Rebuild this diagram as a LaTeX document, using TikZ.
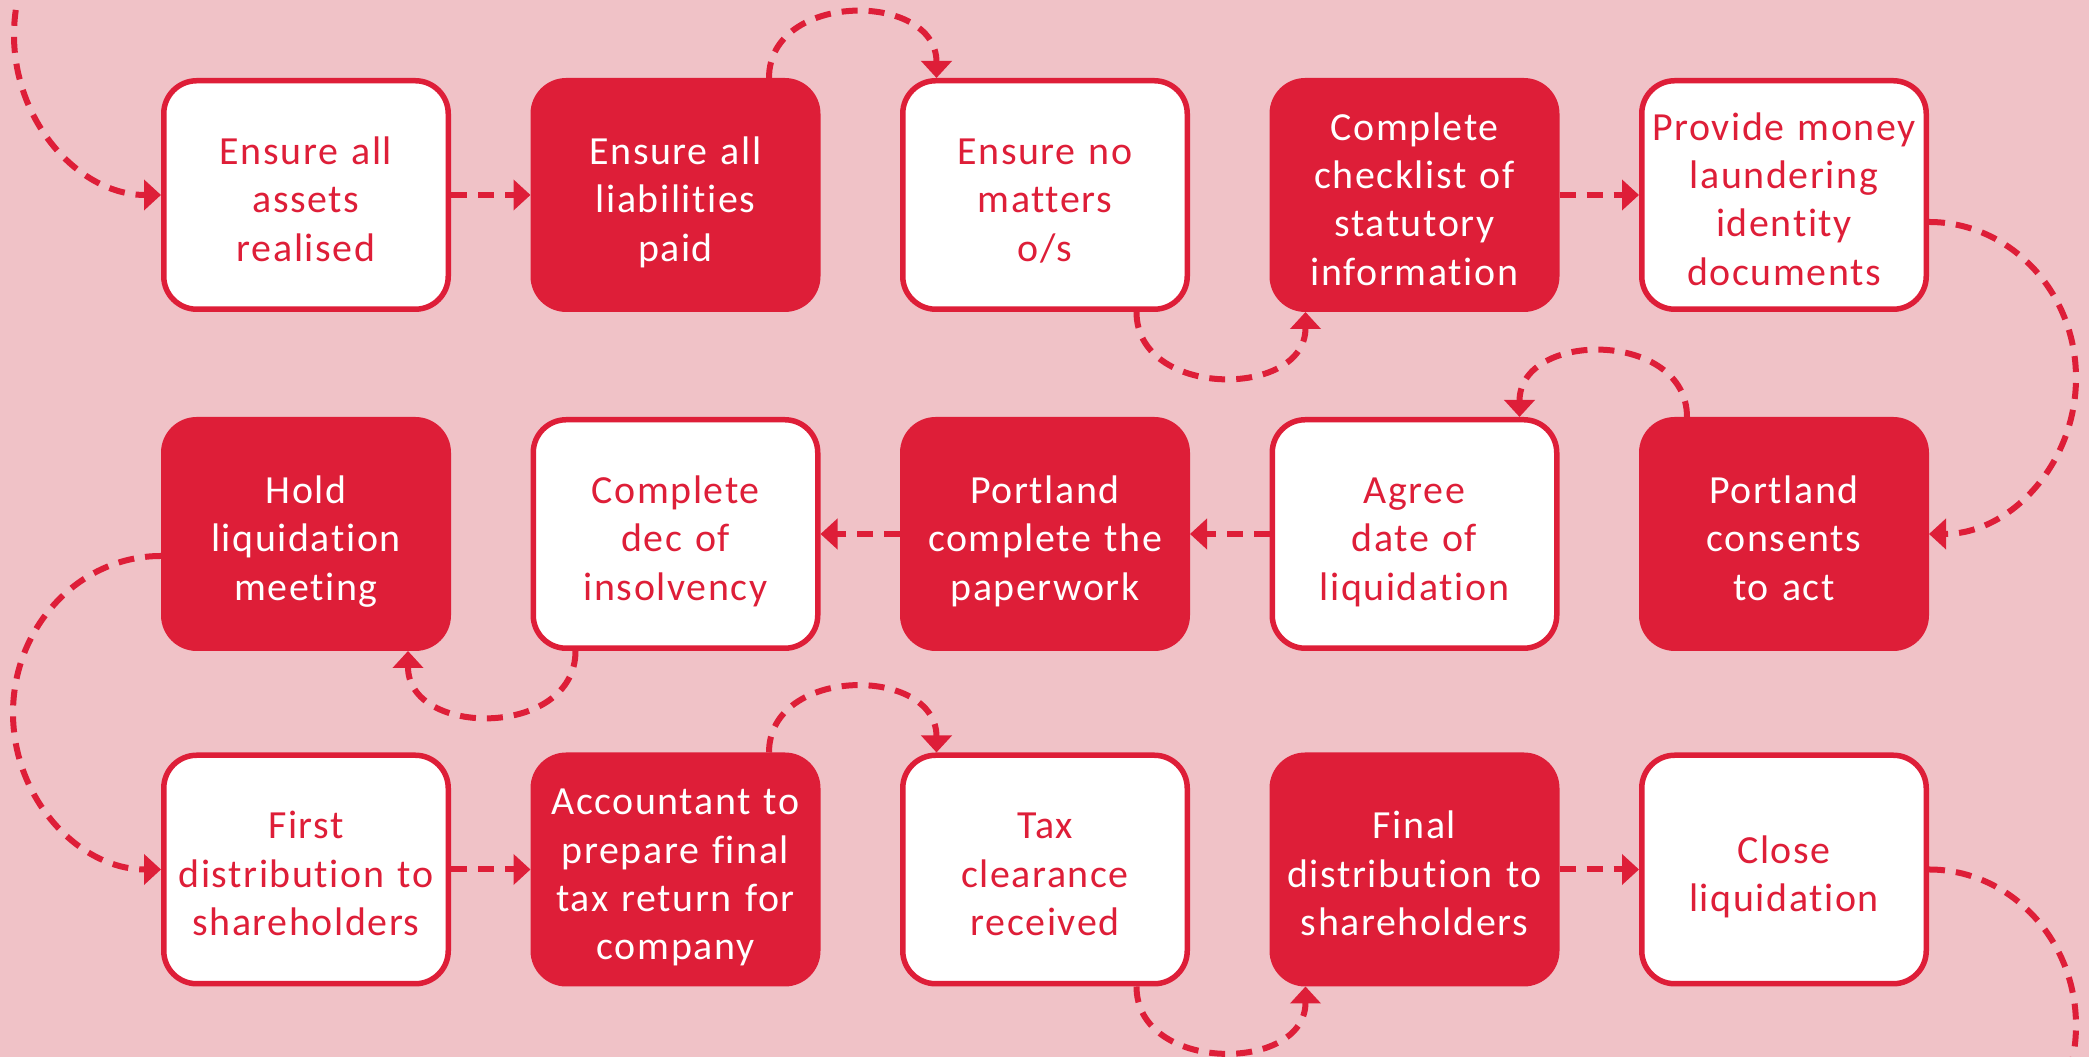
\documentclass[tikz,border=0pt]{standalone}
\usepackage{fontspec}
\setmainfont{Carlito}[LetterSpace=4,Ligatures={NoCommon}]
\usetikzlibrary{arrows.meta}
\definecolor{brand}{RGB}{222,30,56}
\definecolor{bgpink}{RGB}{240,194,199}
\begin{document}
\begin{tikzpicture}[
  box/.style={rounded corners=0.33cm, line width=0.055cm, draw=brand,
    minimum width=2.845cm, minimum height=2.285cm, inner sep=0pt,
    text width=2.8cm, align=center, font=\fontsize{11.35}{13.75}\selectfont,
    execute at begin node={\rule{0pt}{14.2pt}}, execute at end node={\strut}},
  wbox/.style={box, fill=white, text=brand},
  rbox/.style={box, fill=brand, text=white},
  conn/.style={draw=brand, line width=0.06cm, dash pattern=on 0.16cm off 0.11cm,
    -{Triangle[length=0.17cm,width=0.3cm]}},
]
\clip (0,0) rectangle (20.89,10.57);
\fill[bgpink] (0,0) rectangle (20.89,10.57);

% row 1
\node[wbox] (b1) at (3.06,8.62) {Ensure all\\assets\\realised};
\node[rbox] (b2) at (6.755,8.62) {Ensure all\\liabilities\\paid};
\node[wbox] (b3) at (10.45,8.62) {Ensure no\\matters\\o/s};
\node[rbox] (b4) at (14.145,8.62) {Complete\\checklist of\\statutory\\information};
\node[wbox] (b5) at (17.84,8.62) {Provide money\\laundering\\identity\\documents};
% row 2
\node[rbox] (b6) at (3.06,5.23) {Hold\\liquidation\\meeting};
\node[wbox] (b7) at (6.755,5.23) {Complete\\dec of\\insolvency};
\node[rbox] (b8) at (10.45,5.23) {Portland\\complete the\\paperwork};
\node[wbox] (b9) at (14.145,5.23) {Agree\\date of\\liquidation};
\node[rbox] (b10) at (17.84,5.23) {Portland\\consents\\to act};
% row 3
\node[wbox] (b11) at (3.06,1.875) {First\\distribution to\\shareholders};
\node[rbox] (b12) at (6.755,1.875) {Accountant to\\prepare final\\tax return for\\company};
\node[wbox] (b13) at (10.45,1.875) {Tax\\clearance\\received};
\node[rbox] (b14) at (14.145,1.875) {Final\\distribution to\\shareholders};
\node[wbox] (b15) at (17.84,1.875) {Close\\liquidation};

% helper coordinates
\coordinate (entrystart) at (1.61,11.82);
\coordinate (entrymid) at (0.14,10.22);
\coordinate (rmid) at (20.76,6.79);
\coordinate (lmid) at (0.13,3.44);
\coordinate (exitmid) at (20.76,0.315);
\coordinate (exitend) at (19.29,-1.245);

% entry
\draw[conn] (entrystart) .. controls +(-0.81,0) and +(0,0.88) .. (entrymid)
  .. controls +(0,-0.88) and +(-0.81,0) .. (b1.west);
% row 1 connectors
\draw[conn] (b1) -- (b2);
\draw[conn] ([xshift=0.935cm]b2.north) .. controls +(0,0.87) and +(0,0.87) .. ([xshift=-1.085cm]b3.north);
\draw[conn] ([xshift=0.915cm]b3.south) .. controls +(0,-0.87) and +(0,-0.87) .. ([xshift=-1.09cm]b4.south);
\draw[conn] (b4) -- (b5);
\draw[conn] ([yshift=-0.27cm]b5.east) .. controls +(0.81,0) and +(0,0.86) .. (rmid)
  .. controls +(0,-0.86) and +(0.81,0) .. (b10.east);
% row 2 connectors
\draw[conn] ([xshift=-0.97cm]b10.north) .. controls +(0,0.87) and +(0,0.87) .. ([xshift=1.05cm]b9.north);
\draw[conn] (b9) -- (b8);
\draw[conn] (b8) -- (b7);
\draw[conn] ([xshift=-1.0cm]b7.south) .. controls +(0,-0.87) and +(0,-0.87) .. ([xshift=1.02cm]b6.south);
\draw[conn] ([yshift=-0.22cm]b6.west) .. controls +(-0.815,0) and +(0,0.865) .. (lmid)
  .. controls +(0,-0.865) and +(-0.815,0) .. (b11.west);
% row 3 connectors
\draw[conn] (b11) -- (b12);
\draw[conn] ([xshift=0.935cm]b12.north) .. controls +(0,0.87) and +(0,0.87) .. ([xshift=-1.085cm]b13.north);
\draw[conn] ([xshift=0.915cm]b13.south) .. controls +(0,-0.87) and +(0,-0.87) .. ([xshift=-1.09cm]b14.south);
\draw[conn] (b14) -- (b15);
\draw[conn,-] (b15.east) .. controls +(0.81,0) and +(0,0.86) .. (exitmid)
  .. controls +(0,-0.86) and +(0.81,0) .. (exitend);
\end{tikzpicture}
\end{document}
